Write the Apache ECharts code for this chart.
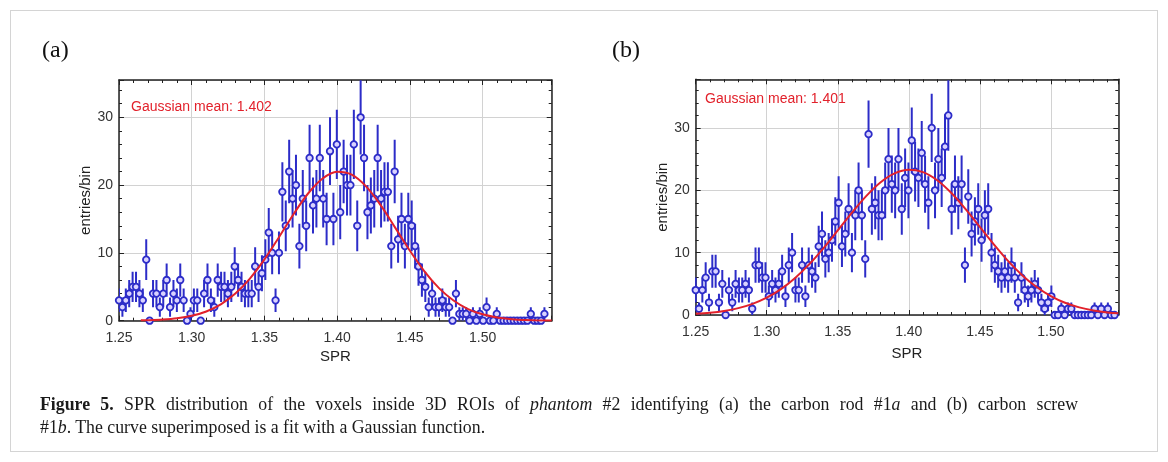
<!DOCTYPE html>
<html><head><meta charset="utf-8">
<script src="https://cdn.jsdelivr.net/npm/echarts@6/dist/echarts.min.js"></script>
<style>
html,body{margin:0;padding:0;background:#fff;}
#wrap{position:relative;width:1168px;height:462px;overflow:hidden;background:#fff;}
#frame{position:absolute;left:10px;top:10px;width:1148px;height:442px;border:1px solid #d4d4d4;box-sizing:border-box;}
#chart{position:absolute;left:0;top:0;width:1168px;height:462px;}
#caption{position:absolute;left:40px;top:393px;width:1038px;font-family:'Liberation Serif','DejaVu Serif',serif;font-size:17.8px;line-height:23px;color:#1a1a1a;}
#caption .l1{text-align:justify;text-align-last:justify;white-space:nowrap;}
</style></head>
<body>
<div id="wrap">
<div id="frame"></div>
<div id="chart"></div>
<div id="caption">
<div class="l1"><b>Figure 5.</b> SPR distribution of the voxels inside 3D ROIs of <i>phantom</i> #2 identifying (a) the carbon rod #1<i>a</i> and (b) carbon screw</div>
<div>#1<i>b</i>. The curve superimposed is a fit with a Gaussian function.</div>
</div>
</div>
<script>
// ---- data ----
const binStart = 1.25;
const binWidth = 0.00234;
const xTicks = ['1.25','1.30','1.35','1.40','1.45','1.50'];
const yTicks = ['0','10','20','30'];
const panelLabels = ['(a)','(b)'];
const fitLabels = ['Gaussian mean: 1.402','Gaussian mean: 1.401'];

const countsA = [
 3,2,3,4,5,5,4,3,9,0,
 4,4,2,4,6,2,4,3,6,3,
 0,1,3,3,0,4,6,3,2,6,
 5,5,4,5,8,6,5,4,4,4,
 8,5,7,9,13,10,3,10,19,14,
 22,18,20,11,18,14,24,17,18,24,
 18,15,25,15,26,16,22,20,20,26,
 14,30,24,16,17,18,24,18,19,19,
 11,22,12,15,11,15,14,11,8,6,
 5,2,4,2,2,3,2,2,0,4,
 1,1,1,0,1,0,1,0,2,0,
 0,1,0,0,0,0,0,0,0,0,
 0,1,0,0,0,1
];
const countsB = [
 4,1,4,6,2,7,7,2,5,0,
 4,2,5,4,4,5,4,1,8,8,
 6,6,3,5,4,5,7,3,8,10,
 4,4,8,3,8,7,6,11,13,9,
 10,12,15,18,11,13,17,10,16,20,
 16,9,29,17,18,16,16,20,25,21,
 20,25,17,22,20,28,23,22,26,21,
 18,30,20,25,22,27,32,17,21,18,
 21,8,19,13,15,17,12,16,17,10,
 8,7,6,7,6,8,6,2,6,4,
 3,4,5,4,2,1,2,3,0,0,
 1,0,1,1,0,0,0,0,0,0,
 1,0,1,0,1,0,0
];
// Gaussian fit curves
const fitXA = [1.265,1.27,1.28,1.29,1.30,1.31,1.32,1.33,1.34,1.35,1.36,1.37,1.38,1.39,1.40,1.41,1.42,1.43,1.44,1.45,1.46,1.47,1.48,1.49,1.50,1.51,1.52,1.53,1.54,1.5475];
const fitYA = [0.05,0.07,0.17,0.36,0.72,1.36,2.41,4.00,6.22,9.04,12.32,15.71,18.76,20.98,21.97,21.54,19.78,17.0,13.69,10.32,7.28,4.81,2.98,1.72,0.94,0.48,0.23,0.10,0.04,0.02];
const fitXB = [1.25,1.26,1.27,1.28,1.29,1.30,1.31,1.32,1.33,1.34,1.35,1.36,1.37,1.38,1.39,1.40,1.41,1.42,1.43,1.44,1.45,1.46,1.47,1.48,1.49,1.50,1.51,1.52,1.53,1.54,1.5475];
const fitYB = [0.20,0.37,0.65,1.10,1.79,2.78,4.15,5.94,8.15,10.73,13.56,16.42,19.07,21.26,22.72,23.3,22.91,21.61,19.56,16.98,14.13,11.29,8.64,6.35,4.48,3.03,1.96,1.22,0.73,0.42,0.29];

// ---- styling / layout ----
const X_MIN = 1.25, X_MAX = 1.5475;
const Y_MAX = [35.5, 37.8];
const grids = [
  {left:119, top:80, width:432.7, height:240.7},
  {left:695.7, top:79.3, width:422.6, height:235.7}
];
const BLUE = '#2c2cc8';
const RED = '#e2212b';
const FONT = "'Liberation Sans', Arial, sans-serif";

function xAx(g, pos, main){
  return {
    type:'value', gridIndex:g, position:pos, min:X_MIN, max:X_MAX, interval:0.05,
    name: main ? 'SPR' : '', nameLocation:'middle', nameGap: g===0 ? 29 : 31,
    nameTextStyle:{fontFamily:FONT, fontSize:15, color:'#222'},
    axisLine:{show:true, onZero:false, lineStyle:{color:'#222', width:1.5}},
    axisTick:{show:true, inside:true, length:5, lineStyle:{color:'#222', width:1}},
    minorTick:{show:true, splitNumber:5, length:3, lineStyle:{color:'#222', width:1}},
    splitLine:{show:main, lineStyle:{color:'#d2d2d2', width:1}},
    axisLabel:{show:main, showMaxLabel:false, fontFamily:FONT, fontSize:14, color:'#333', margin:10,
      formatter:v=>{const s=v.toFixed(2); return xTicks.includes(s)?s:'';}}
  };
}
function yAx(g, pos, main){
  return {
    type:'value', gridIndex:g, position:pos, min:0, max:Y_MAX[g], interval:10,
    name: main ? 'entries/bin' : '', nameLocation:'middle', nameGap:21,
    nameTextStyle:{fontFamily:FONT, fontSize:15, color:'#222'},
    axisLine:{show:true, onZero:false, lineStyle:{color:'#222', width:1.5}},
    axisTick:{show:true, inside:true, length:5, lineStyle:{color:'#222', width:1}},
    minorTick:{show:true, splitNumber:5, length:3, lineStyle:{color:'#222', width:1}},
    splitLine:{show:main, lineStyle:{color:'#d2d2d2', width:1}},
    axisLabel:{show:main, showMaxLabel:false, fontFamily:FONT, fontSize:14, color:'#333', margin:6,
      formatter:v=>{const s=String(Math.round(v)); return yTicks.includes(s)?s:'';}}
  };
}

function points(counts){ return counts.map((c,i)=>[binStart + i*binWidth, c]); }

function errSeries(counts, ax){
  return {
    type:'custom', xAxisIndex:ax, yAxisIndex:ax, clip:true, silent:true, z:2,
    data: counts.map((c,i)=>[binStart + i*binWidth, c, Math.sqrt(c)]),
    renderItem(params, api){
      const x = api.value(0), y = api.value(1), e = api.value(2);
      if(!e) return null;
      const p1 = api.coord([x, y - e]), p2 = api.coord([x, y + e]);
      return {type:'line', shape:{x1:p1[0], y1:p1[1], x2:p2[0], y2:p2[1]},
        style:{stroke:BLUE, lineWidth:2}};
    }
  };
}
function ptSeries(counts, ax){
  return {
    type:'scatter', xAxisIndex:ax, yAxisIndex:ax, z:3, silent:true,
    data: points(counts), symbol:'circle', symbolSize:6.5,
    itemStyle:{color:'#d9d2ff', borderColor:BLUE, borderWidth:1.8, opacity:1}
  };
}
function fitSeries(xs, ys, ax){
  return {
    type:'line', xAxisIndex:ax, yAxisIndex:ax, z:4, silent:true, smooth:0.35,
    data: xs.map((x,i)=>[x, ys[i]]), symbol:'none', clip:true,
    lineStyle:{color:RED, width:2}
  };
}

const chart = echarts.init(document.getElementById('chart'), null, {renderer:'canvas'});
chart.setOption({
  animation:false,
  backgroundColor:'transparent',
  grid: grids.map(g=>Object.assign({containLabel:false}, g)),
  xAxis:[xAx(0,'bottom',true), xAx(1,'bottom',true), xAx(0,'top',false), xAx(1,'top',false)],
  yAxis:[yAx(0,'left',true), yAx(1,'left',true), yAx(0,'right',false), yAx(1,'right',false)],
  series:[
    errSeries(countsA,0), ptSeries(countsA,0), fitSeries(fitXA,fitYA,0),
    errSeries(countsB,1), ptSeries(countsB,1), fitSeries(fitXB,fitYB,1)
  ],
  graphic:[
    {type:'text', left:42, top:39, style:{text:panelLabels[0], font:"24px 'Liberation Serif', serif", fill:'#111'}},
    {type:'text', left:612, top:39, style:{text:panelLabels[1], font:"24px 'Liberation Serif', serif", fill:'#111'}},
    {type:'text', left:131, top:100, style:{text:fitLabels[0], font:"14px 'Liberation Sans', Arial, sans-serif", fill:RED}},
    {type:'text', left:705, top:92, style:{text:fitLabels[1], font:"14px 'Liberation Sans', Arial, sans-serif", fill:RED}}
  ]
});
</script>
</body></html>
